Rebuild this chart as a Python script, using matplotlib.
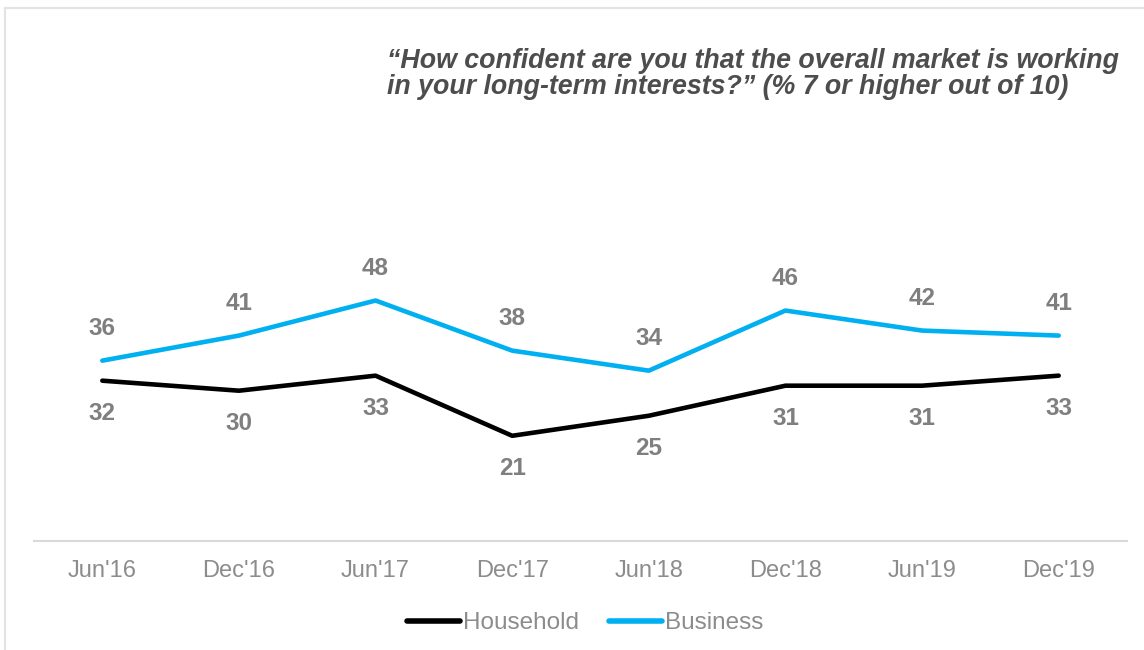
import matplotlib.pyplot as plt
from matplotlib.lines import Line2D

periods = ["Jun'16", "Dec'16", "Jun'17", "Dec'17", "Jun'18", "Dec'18", "Jun'19", "Dec'19"]
household = [32, 30, 33, 21, 25, 31, 31, 33]
business = [36, 41, 48, 38, 34, 46, 42, 41]

title = ("\u201cHow confident are you that the overall market is working\n"
         "in your long-term interests?\u201d (% 7 or higher out of 10)")

plt.rcParams['font.family'] = ['Liberation Sans', 'DejaVu Sans']

BLUE = '#00B0F0'
LABEL_GREY = '#7F7F7F'

fig = plt.figure(figsize=(11.44, 6.5), dpi=100)
ax = fig.add_axes([34 / 1144, 109 / 650, 1093 / 1144, 501 / 650])

x = range(len(periods))
ax.plot(x, household, color='black', lw=3.3, solid_capstyle='round', solid_joinstyle='round')
ax.plot(x, business, color=BLUE, lw=3.3, solid_capstyle='round', solid_joinstyle='round')

# value labels: business above the line, household below
for i, (h, b) in enumerate(zip(household, business)):
    ax.annotate(str(b), (i, b), xytext=(0, 23), textcoords='offset points',
                ha='center', va='center', fontsize=17.5, fontweight='bold', color=LABEL_GREY)
    ax.annotate(str(h), (i, h), xytext=(0, -23.5), textcoords='offset points',
                ha='center', va='center', fontsize=17.5, fontweight='bold', color=LABEL_GREY)

ax.set_xlim(-0.5, len(periods) - 0.5)
ax.set_ylim(0, 100)
ax.set_xticks(list(x))
ax.set_xticklabels(periods, fontsize=17, color='#8C8C8C')
ax.tick_params(axis='x', length=0, pad=14)
ax.set_yticks([])
for side in ['top', 'right', 'left']:
    ax.spines[side].set_visible(False)
ax.spines['bottom'].set_color('#D9D9D9')
ax.spines['bottom'].set_linewidth(1.5)

fig.text(387 / 1144, 1 - 74 / 650, title, ha='left', va='center', fontsize=19.3,
         fontweight='bold', style='italic', color='#4D4D4D', linespacing=1.05)

handles = [Line2D([], [], color='black', lw=4, solid_capstyle='round'),
           Line2D([], [], color=BLUE, lw=4, solid_capstyle='round')]
fig.legend(handles, ['Household', 'Business'], loc='center', bbox_to_anchor=(585 / 1144, 1 - 623 / 650),
           ncol=2, frameon=False, fontsize=17.5, labelcolor='#8C8C8C',
           handlelength=2.2, handletextpad=0.1, columnspacing=1.25)

# light border along the top and left edges
fig.add_artist(Line2D([5 / 1144, 5 / 1144], [0, 1 - 8 / 650], transform=fig.transFigure,
                      color='#E3E3E3', lw=1.5))
fig.add_artist(Line2D([5 / 1144, 1], [1 - 8 / 650, 1 - 8 / 650], transform=fig.transFigure,
                      color='#E3E3E3', lw=1.5))

fig.savefig('out.png', dpi=100)
